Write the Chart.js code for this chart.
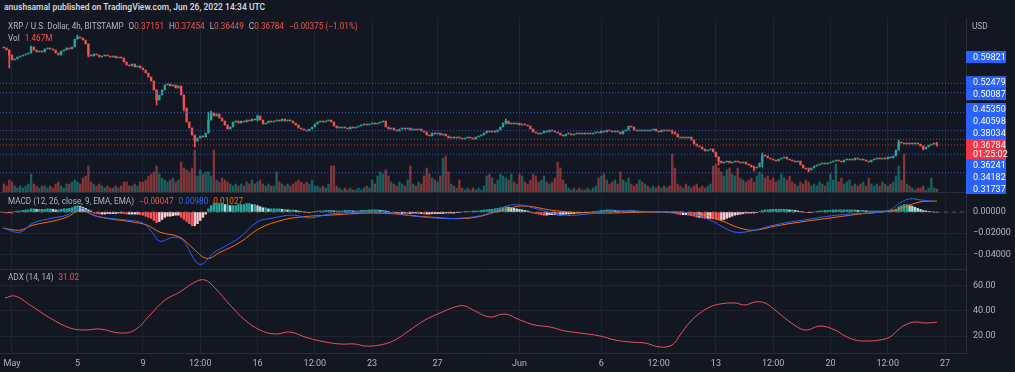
<!DOCTYPE html>
<html>
<head>
<meta charset="utf-8">
<script src="https://cdn.jsdelivr.net/npm/chart.js@4.4.0/dist/chart.umd.min.js"></script>
<style>
  body { margin: 0; background: #131722; width: 1015px; height: 372px; overflow: hidden; position: relative; font-family: Roboto, "Liberation Sans", sans-serif; }
  .pane { position: absolute; left: 0; width: 1015px; }
  .txt { position: absolute; white-space: nowrap; font-size: 8.2px; line-height: 10px; color: #b2b5be; }
  .hdr { color: #d1d4dc; font-weight: 600; font-size: 8.5px; }
  .dn { color: #ef5350; }
  .bl { color: #2962ff; }
  .or { color: #ff6d00; }
  .gap { margin-left: 5px; }
</style>
</head>
<body>
<div class="pane" style="top:18px;height:176px"><canvas id="priceChart"></canvas></div>
<div class="pane" style="top:194px;height:76px"><canvas id="macdChart"></canvas></div>
<div class="pane" style="top:270px;height:102px"><canvas id="adxChart"></canvas></div>

<div class="txt hdr" style="left:4px;top:2px">anushsamal published on TradingView.com, Jun 26, 2022 14:34 UTC</div>
<div class="txt" style="left:8px;top:21px">XRP / U.S. Dollar, 4h, BITSTAMP<span class="gap">O</span><span class="dn">0.37151</span><span class="gap">H</span><span class="dn">0.37454</span><span class="gap">L</span><span class="dn">0.36449</span><span class="gap">C</span><span class="dn">0.36784</span><span class="dn gap">&minus;0.00375 (&minus;1.01%)</span></div>
<div class="txt" style="left:8px;top:33px">Vol<span class="dn gap">1.467M</span></div>
<div class="txt" style="left:972px;top:21px">USD</div>
<div class="txt" style="left:8px;top:196px">MACD (12, 26, close, 9, EMA, EMA)<span class="dn gap">&minus;0.00047</span><span class="bl gap">0.00980</span><span class="or gap">0.01027</span></div>
<div class="txt" style="left:8px;top:272px">ADX (14, 14)<span class="dn gap">31.02</span></div>

<script>
// --- data (XRP/USD 4h, Bitstamp) ---
// candles start Apr 30 12:00, one every 4h; x axis in days since May 1 00:00
const firstCandleDay = -0.5;
const candleStep = 1 / 6;
const firstOpen = 0.6244;

const closes = [
  0.6218, 0.6165, 0.6034,
  0.5904, 0.5930, 0.5982, 0.6008, 0.6034, 0.6061,
  0.6087, 0.6244, 0.6165, 0.6113, 0.6139, 0.6113,
  0.6192, 0.6218, 0.6192, 0.6165, 0.6087, 0.6034,
  0.6139, 0.6165, 0.6218, 0.6192, 0.6244, 0.6453,
  0.6506, 0.6479, 0.6427, 0.6322, 0.6034, 0.6008,
  0.6061, 0.6034, 0.5982, 0.6008, 0.6034, 0.6008,
  0.5982, 0.6008, 0.5956, 0.5982, 0.5956, 0.5851,
  0.5773, 0.5747, 0.5799, 0.5720, 0.5747, 0.5694,
  0.5642, 0.5563, 0.5458, 0.5354, 0.5118, 0.4856,
  0.4987, 0.5118, 0.5249, 0.5275, 0.5223, 0.5249,
  0.5170, 0.5223, 0.4987, 0.4647, 0.4280, 0.4123,
  0.3940, 0.3783, 0.3861, 0.3914, 0.3887, 0.3992,
  0.4333, 0.4516, 0.4437, 0.4490, 0.4385, 0.4306,
  0.4202, 0.4097, 0.4149, 0.4280, 0.4306, 0.4254,
  0.4306, 0.4280, 0.4333, 0.4306, 0.4359, 0.4333,
  0.4437, 0.4333, 0.4228, 0.4254, 0.4306, 0.4280,
  0.4306, 0.4333, 0.4306, 0.4359, 0.4306, 0.4333,
  0.4306, 0.4254, 0.4202, 0.4123, 0.4097, 0.4071,
  0.4045, 0.4097, 0.4149, 0.4228, 0.4280, 0.4306,
  0.4280, 0.4306, 0.4333, 0.4280, 0.4175, 0.4123,
  0.4123, 0.4149, 0.4123, 0.4097, 0.4149, 0.4123,
  0.4149, 0.4175, 0.4202, 0.4228, 0.4202, 0.4228,
  0.4254, 0.4228, 0.4254, 0.4280, 0.4306, 0.4149,
  0.4097, 0.4123, 0.4071, 0.4045, 0.4097, 0.4123,
  0.4097, 0.4123, 0.4071, 0.4097, 0.4071, 0.4097,
  0.4045, 0.4018, 0.3940, 0.3914, 0.3992, 0.3966,
  0.3992, 0.3940, 0.3966, 0.3914, 0.3861, 0.3887,
  0.3861, 0.3887, 0.3861, 0.3835, 0.3861, 0.3887,
  0.3861, 0.3835, 0.3887, 0.3914, 0.3940, 0.3992,
  0.4045, 0.4018, 0.4045, 0.4018, 0.4071, 0.4149,
  0.4254, 0.4306, 0.4228, 0.4254, 0.4228, 0.4254,
  0.4202, 0.4228, 0.4202, 0.4175, 0.4097, 0.4018,
  0.3992, 0.3966, 0.3992, 0.4045, 0.4018, 0.4071,
  0.4045, 0.4018, 0.3992, 0.3940, 0.3914, 0.3966,
  0.3966, 0.3940, 0.3966, 0.3992, 0.3966, 0.3992,
  0.3966, 0.3992, 0.3966, 0.3992, 0.4018, 0.3992,
  0.4045, 0.4018, 0.4071, 0.4045, 0.4018, 0.4045,
  0.4018, 0.3966, 0.4045, 0.4071, 0.4175, 0.4149,
  0.4071, 0.4045, 0.4071, 0.4045, 0.4071, 0.4045,
  0.4071, 0.4097, 0.4045, 0.4018, 0.4071, 0.4045,
  0.4071, 0.4045, 0.4018, 0.3966, 0.3887, 0.3861,
  0.3887, 0.3861, 0.3887, 0.3809, 0.3704, 0.3652,
  0.3626, 0.3573, 0.3521, 0.3547, 0.3573, 0.3495,
  0.3364, 0.3259, 0.3207, 0.3233, 0.3259, 0.3207,
  0.3233, 0.3259, 0.3233, 0.3207, 0.3233, 0.3181,
  0.3154, 0.3102, 0.3076, 0.3102, 0.3207, 0.3416,
  0.3390, 0.3338, 0.3311, 0.3285, 0.3259, 0.3311,
  0.3338, 0.3364, 0.3311, 0.3285, 0.3259, 0.3233,
  0.3259, 0.3154, 0.3076, 0.3050, 0.3023, 0.3076,
  0.3128, 0.3154, 0.3181, 0.3207, 0.3181, 0.3207,
  0.3233, 0.3259, 0.3285, 0.3259, 0.3233, 0.3285,
  0.3285, 0.3311, 0.3285, 0.3338, 0.3311, 0.3285,
  0.3285, 0.3259, 0.3233, 0.3285, 0.3311, 0.3338,
  0.3311, 0.3338, 0.3311, 0.3364, 0.3338, 0.3390,
  0.3547, 0.3756, 0.3730, 0.3704, 0.3730, 0.3704,
  0.3704, 0.3730, 0.3704, 0.3652, 0.3573, 0.3626,
  0.3678, 0.3704, 0.37151, 0.36784
];

// [candle index, high, low] for the wicks that show
const wicks = [
  [2, 0.6165, 0.5694], [10, 0.6270, 0.6087], [27, 0.6558, 0.6453], [31, 0.6322, 0.5982],
  [56, 0.5118, 0.4725], [66, 0.4987, 0.4568], [70, 0.3914, 0.3626], [75, 0.4542, 0.3992],
  [76, 0.4568, 0.4333], [93, 0.4463, 0.4306], [184, 0.4359, 0.4228], [245, 0.4071, 0.3966],
  [262, 0.3364, 0.3154], [275, 0.3128, 0.2997], [278, 0.3469, 0.3102], [295, 0.3076, 0.2971],
  [328, 0.3809, 0.3547], [337, 0.3652, 0.3547], [342, 0.37454, 0.36449]
];

// volume, millions of XRP
const volumes = [
  4, 3, 6,
  5, 3, 2, 3, 2, 3,
  4, 9, 4, 3, 2, 3,
  3, 2, 3, 2, 4, 5,
  3, 2, 4, 4, 5, 6,
  5, 4, 7, 8, 13, 5,
  4, 3, 4, 3, 2, 3,
  2, 2, 3, 2, 3, 5,
  5, 3, 3, 4, 3, 5,
  5, 6, 8, 9, 10, 13,
  9, 7, 6, 5, 6, 7,
  5, 6, 15, 12, 11, 10,
  12, 21, 8, 11, 9, 10,
  10, 8, 21, 6, 5, 7,
  6, 5, 4, 3, 4, 3,
  4, 3, 5, 4, 6, 4,
  5, 6, 4, 3, 4, 3,
  3, 10, 5, 4, 3, 4,
  3, 4, 5, 6, 5, 4,
  5, 4, 6, 3, 3, 2,
  3, 2, 4, 13, 13, 3,
  2, 1, 2, 1, 2, 1,
  1, 2, 1, 2, 3, 2,
  6, 4, 8, 10, 9, 11,
  8, 5, 4, 3, 5, 4,
  3, 6, 13, 4, 3, 5,
  4, 8, 12, 9, 7, 6,
  5, 8, 17, 18, 10, 4,
  3, 2, 6, 2, 1, 2,
  1, 2, 1, 2, 1, 3,
  8, 9, 7, 4, 6, 9,
  8, 7, 6, 9, 5, 4,
  9, 8, 5, 4, 6, 9,
  8, 5, 6, 8, 5, 4,
  5, 7, 15, 12, 6, 4,
  2, 1, 2, 1, 2, 1,
  1, 2, 1, 2, 3, 7,
  8, 9, 6, 4, 5, 6,
  4, 10, 6, 5, 7, 4,
  3, 4, 6, 5, 4, 3,
  2, 3, 2, 3, 2, 3,
  2, 3, 19, 12, 4, 3,
  2, 4, 3, 2, 3, 4,
  2, 3, 2, 3, 4, 13,
  14, 12, 10, 8, 11, 12,
  9, 8, 12, 7, 6, 5,
  6, 7, 5, 8, 10, 9,
  7, 8, 6, 7, 5, 6,
  9, 7, 6, 8, 5, 4,
  3, 5, 4, 6, 5, 3,
  4, 3, 5, 4, 3, 5,
  9, 6, 14, 5, 7, 4,
  5, 6, 3, 4, 3, 4,
  5, 3, 7, 4, 3, 4,
  3, 5, 4, 3, 4, 5,
  8, 13, 6, 19, 4, 3,
  2, 1, 2, 2, 3, 1,
  2, 7, 2, 1.467
];

// MACD histogram per candle, in thousandths
const histogram = [
  -0.5, -1, -0.5,
  -1, 0.5, 1, 1, 1.5, 2,
  2, 3, 3, 2.5, 2.5, 2.5,
  2.5, 3, 3, 2.5, 2, 2,
  2.5, 3, 3, 3.5, 4, 5.5,
  6, 5.5, 4.5, 3.5, 2, 1,
  -1, -1.5, -2, -2, -2, -1.5,
  -1.5, -1.5, -1.5, -1, -1, -1.5,
  -2, -2, -2, -2, -2, -2.5,
  -3, -4, -5, -6, -8, -10,
  -9, -7, -5, -4, -4, -3.5,
  -3, -3, -5, -7, -9, -11,
  -13, -13, -11, -8, -5, -2,
  3, 6, 8, 8, 8, 8,
  7, 7, 6, 6, 6, 7,
  7, 7, 8, 8, 7, 7,
  6, 5, 4, 4, 3, 3,
  3, 3, 3, 2.5, 2.5, 2,
  2, 2, 1.5, 1, 0.5, 0,
  -0.5, -0.5, 0, 0.5, 1, 1,
  1, 1.5, 1.5, 1.5, 1, 1,
  1, 1, 1.5, 1.5, 1.5, 1,
  1, 1, 1.5, 1.5, 1.5, 2,
  2, 2, 2, 1.5, 1.5, 1,
  0.5, -0.5, -1, -1, -1.5, -1.5,
  -1, -1.5, -1.5, -1, -1, -1.5,
  -1.5, -2, -2, -2, -1.5, -1.5,
  -1.5, -1.5, -1.5, -1, -1, -1,
  -1, -0.5, -0.5, 0, 0.5, 0.5,
  0.5, 1, 1, 1, 1.5, 2,
  2, 2.5, 2.5, 3, 3.5, 4,
  4.5, 5, 4.5, 4, 3.5, 3,
  2.5, 2, 1.5, 1, 0, -1,
  -1.5, -2, -2.5, -3, -3, -2.5,
  -2.5, -2.5, -3, -3, -2.5, -2,
  -2, -1.5, -1.5, -1, -1, -0.5,
  -0.5, -0.5, 0, 0.5, 0.5, 1,
  1.5, 1.5, 2, 2, 2, 1.5,
  1, 1, 1, 1, 1.5, 1.5,
  1, 1, 0.5, 0.5, 0.5, 0.5,
  0.5, 0.5, 0, 0, 0, -0.5,
  -0.5, -0.5, -1, -1, -2, -2.5,
  -2.5, -2.5, -3, -3.5, -4, -5,
  -5, -5.5, -6, -6, -6, -6.5,
  -7, -7.5, -7.5, -7, -6, -5,
  -4, -3, -2.5, -2, -1.5, -1,
  -1, -1, -1, -0.5, 0.5, 1.5,
  2, 2, 2.5, 2.5, 2.5, 2.5,
  2.5, 2.5, 2.5, 2, 2, 1.5,
  1, 0.5, 0, -0.5, -0.5, -0.5,
  0, 0.5, 1, 1, 1.5, 1.5,
  1.5, 2, 2, 2, 2, 2,
  2, 2, 2, 2, 1.5, 1.5,
  1.5, 1, 1, 1, 1, 1,
  1, 1, 1, 1, 1, 1.5,
  2.5, 5, 6, 7, 7, 6.5,
  5.5, 4.5, 3.5, 2.5, 1.5, 1,
  0.5, 0.5, 0, -0.47
];

const macdDays = [-0.55, 0.49, 1.28, 2.5, 3.36, 4.15, 4.95, 5.8, 7.03, 8.0, 8.6, 9.04, 9.84, 10.45,
  11.06, 11.48, 11.9, 12.28, 13.13, 13.93, 14.97, 15.94, 17.17, 18.2, 19.43, 22.48, 24.5, 25.96,
  27.55, 29.0, 30.24, 31.03, 32.07, 33.66, 35.74, 36.71, 39.58, 41.42, 42.64, 43.56, 44.17, 45.08,
  46.3, 47.53, 48.75, 49.97, 51.19, 52.41, 53.63, 54.24, 54.85, 55.47, 56.5];
const macdValues = [-0.0152, -0.0190, -0.0105, -0.0057, -0.0029, 0.0038, -0.0029, -0.0057, -0.0076,
  -0.0105, -0.0200, -0.0276, -0.0238, -0.0267, -0.0429, -0.0495, -0.0457, -0.0390, -0.0314, -0.0238,
  -0.0095, -0.0057, -0.0029, -0.0057, -0.0019, 0.0000, -0.0038, -0.0057, -0.0057, -0.0019, 0.0057,
  0.0067, 0.0029, -0.0029, -0.0010, 0.0010, 0.0000, -0.0010, -0.0076, -0.0152, -0.0190, -0.0181,
  -0.0133, -0.0095, -0.0067, -0.0038, -0.0019, -0.0010, 0.0019, 0.0086, 0.0124, 0.0114, 0.0098];

const signalDays = [-0.55, 0.49, 1.28, 2.5, 3.36, 4.15, 5.38, 7.39, 8.25, 9.04, 10.26, 11.06, 11.9,
  12.7, 13.93, 15.15, 16.55, 17.6, 19.43, 22.48, 25.53, 27.98, 30.0, 31.22, 33.29, 35.74, 39.58,
  42.03, 43.25, 44.47, 45.39, 46.61, 48.14, 49.97, 51.8, 53.63, 54.55, 55.47, 56.5];
const signalValues = [-0.0152, -0.0171, -0.0124, -0.0086, -0.0048, 0.0010, -0.0048, -0.0095, -0.0124,
  -0.0190, -0.0238, -0.0343, -0.0438, -0.0381, -0.0286, -0.0152, -0.0076, -0.0048, -0.0029, -0.0010,
  -0.0048, -0.0057, 0.0019, 0.0057, 0.0010, -0.0010, 0.0000, -0.0019, -0.0076, -0.0152, -0.0171,
  -0.0133, -0.0095, -0.0057, -0.0019, 0.0010, 0.0048, 0.0095, 0.0103];

const adxDays = [-0.43, 0.18, 1.1, 2.32, 3.54, 4.46, 5.38, 6.6, 7.51, 8.43, 9.35, 10.26, 11.18, 11.79,
  12.4, 13.32, 14.23, 15.15, 16.07, 16.98, 17.9, 18.81, 20.04, 20.95, 21.56, 22.48, 23.4, 24.31,
  25.23, 26.15, 27.06, 27.67, 28.28, 29.2, 30.12, 31.03, 31.95, 32.87, 33.78, 34.7, 35.92, 36.84,
  37.75, 38.67, 39.58, 40.32, 40.81, 41.42, 42.03, 42.64, 43.25, 44.17, 44.78, 45.39, 46.0, 46.61,
  47.53, 48.44, 49.36, 50.28, 50.89, 51.5, 52.11, 53.02, 53.63, 54.12, 54.55, 55.16, 55.77, 56.5];
const adxValues = [50.4, 52, 44.8, 34.4, 26.4, 24.8, 25.6, 22.4, 24.8, 36.8, 48.8, 55.2, 63.2, 64.8,
  58.4, 44.8, 32.8, 24.8, 21.6, 23.2, 19.2, 16, 13.6, 13.6, 12, 12.8, 16.8, 24.8,
  32.8, 38.4, 43.2, 44, 40, 35.2, 37.6, 32.8, 28.8, 27.2, 24, 22.4, 20, 16.8,
  15.2, 14.4, 11.2, 12.8, 20.8, 31.2, 38.4, 43.2, 45.6, 46.4, 44.8, 47.2, 46.4, 40.8,
  31.2, 24.8, 28, 24.8, 20, 16.8, 16, 16.8, 19.2, 24.8, 28.8, 31.2, 30.4, 31.02];

// drawn horizontal levels and the price labels on the axis
const levelLines = [0.5294, 0.5048, 0.4524, 0.4053, 0.3827, 0.3435, 0.2953];
const badgePrices = [0.59821, 0.52479, 0.50087, 0.45350, 0.40598, 0.38034, 0.36241, 0.34182, 0.31737];
const lastPrice = 0.36784;
const countdown = '01:25:02';

const tickDays = [0, 4, 8, 11.5, 15, 18.5, 22, 26, 31, 36, 39.5, 43, 46.5, 50, 53.5, 57];
const tickLabels = ['May', '5', '9', '12:00', '16', '12:00', '23', '27', 'Jun', '6', '12:00', '13', '12:00', '20', '12:00', '27'];
const macdTicks = [0, -0.02, -0.04];
const adxTicks = [20, 40, 60];

// --- view settings ---
const xMin = -0.733, xMax = 58.28;
const priceMin = 0.2448, priceMax = 0.7003, volMax = 87;
const macdMin = -0.05377, macdMax = 0.01698;
const adxMin = 6.4, adxMax = 72.8;
const axisWidth = 49;
const barW = 1.7;

const upColor = '#26a69a', downColor = '#ef5350';
const textColor = '#b2b5be', gridColor = 'rgba(42,46,57,0.55)', paneBorder = '#2a2e39';

Chart.defaults.font.family = 'Roboto, "Liberation Sans", sans-serif';
Chart.defaults.font.size = 9;
Chart.defaults.color = textColor;

const dayOf = i => firstCandleDay + i * candleStep;
const opens = closes.map((c, i) => i === 0 ? firstOpen : closes[i - 1]);
const isUp = closes.map((c, i) => c >= opens[i]);

function xAxis(showLabels) {
  return {
    type: 'linear', min: xMin, max: xMax, offset: false,
    afterBuildTicks: s => { s.ticks = tickDays.map(v => ({ value: v })); },
    afterFit: s => { s.height = showLabels ? 19 : 0; s.paddingLeft = 0; s.paddingRight = 0; },
    grid: { color: gridColor, drawTicks: false, offset: false },
    border: { display: true, color: paneBorder },
    ticks: { display: showLabels, autoSkip: false, maxRotation: 0, padding: 5, color: textColor,
      callback: (v, i) => tickLabels[i] }
  };
}

function rightAxis(min, max, ticks, fmt) {
  return {
    position: 'right', min, max,
    afterBuildTicks: s => { if (ticks) s.ticks = ticks.map(v => ({ value: v })); },
    afterFit: s => { s.width = axisWidth; s.paddingTop = 0; s.paddingBottom = 0; },
    grid: { display: !!ticks, color: gridColor, drawTicks: false },
    border: { display: true, color: paneBorder },
    ticks: { display: !!ticks, padding: 7, color: textColor, callback: v => fmt ? fmt(v) : '' }
  };
}

const baseOptions = {
  responsive: true, maintainAspectRatio: false, animation: false, events: [],
  plugins: { legend: { display: false }, tooltip: { enabled: false } }
};

function hLine(y, color, dash) {
  return { type: 'line', data: [{ x: xMin, y }, { x: xMax, y }], borderColor: color, borderWidth: 1,
    borderDash: dash, pointRadius: 0, order: 0 };
}

// axis price labels, pushed apart like TradingView does
const priceBadges = {
  id: 'priceBadges',
  afterDraw(chart) {
    const { ctx, scales: { y } } = chart;
    const left = y.left, w = 40, h = 12;
    const curY = y.getPixelForValue(lastPrice);
    const curTop = curY - 6, curBottom = curY + 14;
    ctx.save();
    ctx.font = '9px Roboto, "Liberation Sans", sans-serif';
    ctx.textBaseline = 'middle';
    ctx.textAlign = 'left';
    const drawBadge = (p, c) => {
      ctx.fillStyle = '#2962ff';
      ctx.fillRect(left, c - h / 2, w, h);
      ctx.fillStyle = '#ffffff';
      ctx.fillText(p.toFixed(5), left + 7, c + 0.5);
    };
    let limit = curTop;
    badgePrices.filter(p => p > lastPrice).sort((a, b) => a - b).forEach(p => {
      const c = Math.min(y.getPixelForValue(p), limit - h / 2);
      drawBadge(p, c);
      limit = c - h / 2;
    });
    limit = curBottom;
    badgePrices.filter(p => p < lastPrice).sort((a, b) => b - a).forEach(p => {
      const c = Math.max(y.getPixelForValue(p), limit + h / 2);
      drawBadge(p, c);
      limit = c + h / 2;
    });
    ctx.fillStyle = '#f23645';
    ctx.fillRect(left, curTop, w, curBottom - curTop);
    ctx.fillStyle = '#ffffff';
    ctx.fillText(lastPrice.toFixed(5), left + 7, curY + 0.5);
    ctx.fillText(countdown, left + 7, curY + 10);
    ctx.restore();
  }
};

// --- price pane: candles, wicks, volume, levels ---
new Chart(document.getElementById('priceChart'), {
  type: 'line',
  data: {
    datasets: [
      ...levelLines.map(p => hLine(p, 'rgba(60,100,230,0.85)', [1, 2])),
      hLine(lastPrice, 'rgba(242,54,69,0.8)', [1, 2]),
      {
        type: 'bar', grouped: false, order: 1, barThickness: barW, minBarLength: 1,
        data: closes.map((c, i) => ({ x: dayOf(i), y: [opens[i], c] })),
        backgroundColor: isUp.map(u => u ? upColor : downColor)
      },
      {
        type: 'bar', grouped: false, order: 2, barThickness: 1,
        data: wicks.map(w => ({ x: dayOf(w[0]), y: [w[2], w[1]] })),
        backgroundColor: wicks.map(w => isUp[w[0]] ? upColor : downColor)
      },
      {
        type: 'bar', grouped: false, order: 3, barThickness: barW, yAxisID: 'yVol',
        data: volumes.map((v, i) => ({ x: dayOf(i), y: v })),
        backgroundColor: isUp.map(u => u ? 'rgba(38,166,154,0.5)' : 'rgba(239,83,80,0.5)')
      }
    ]
  },
  options: {
    ...baseOptions,
    layout: { padding: { bottom: 2 } },
    scales: {
      x: xAxis(false),
      y: rightAxis(priceMin, priceMax, null, null),
      yVol: { display: false, min: 0, max: volMax }
    }
  },
  plugins: [priceBadges]
});

// --- MACD pane ---
const macdFmt = v => v === 0 ? '0.00000' : (v < 0 ? '\u2212' : '') + Math.abs(v).toFixed(5);
new Chart(document.getElementById('macdChart'), {
  type: 'line',
  data: {
    datasets: [
      hLine(0, 'rgba(120,123,134,0.6)', [4, 4]),
      {
        type: 'bar', grouped: false, order: 2, barThickness: barW,
        data: histogram.map((v, i) => ({ x: dayOf(i), y: v / 1000 })),
        backgroundColor: histogram.map((v, i) => {
          const prev = i > 0 ? histogram[i - 1] : 0;
          if (v >= 0) return v >= prev ? '#26a69a' : '#b2dfdb';
          return v < prev ? '#ff5252' : '#ffcdd2';
        })
      },
      {
        data: macdDays.map((d, i) => ({ x: d, y: macdValues[i] })),
        borderColor: '#2962ff', borderWidth: 1, pointRadius: 0, tension: 0.4, order: 1
      },
      {
        data: signalDays.map((d, i) => ({ x: d, y: signalValues[i] })),
        borderColor: '#ff6d00', borderWidth: 1, pointRadius: 0, tension: 0.4, order: 1
      }
    ]
  },
  options: {
    ...baseOptions,
    layout: { padding: { bottom: 1 } },
    scales: { x: xAxis(false), y: rightAxis(macdMin, macdMax, macdTicks, macdFmt) }
  }
});

// --- ADX pane with the time axis ---
new Chart(document.getElementById('adxChart'), {
  type: 'line',
  data: {
    datasets: [{
      data: adxDays.map((d, i) => ({ x: d, y: adxValues[i] })),
      borderColor: '#e8505b', borderWidth: 1, pointRadius: 0, tension: 0.4
    }]
  },
  options: {
    ...baseOptions,
    scales: { x: xAxis(true), y: rightAxis(adxMin, adxMax, adxTicks, v => v.toFixed(2)) }
  }
});
</script>
</body>
</html>
